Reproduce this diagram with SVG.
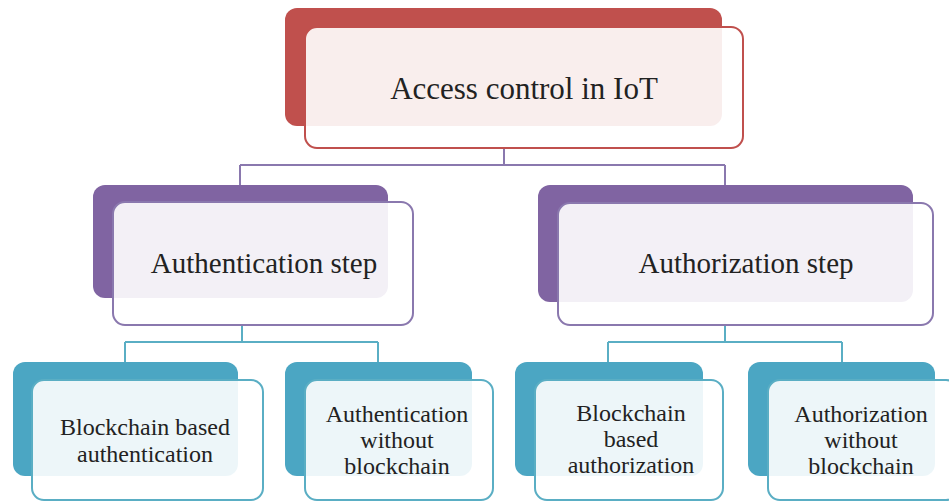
<svg xmlns="http://www.w3.org/2000/svg" width="949" height="502" viewBox="0 0 949 502">
<style>
.back-r{fill:#c0504d}
.back-p{fill:#8064a2}
.back-t{fill:#4ba6c3}
.front{fill:#ffffff;fill-opacity:0.9;stroke-width:2}
.fr{stroke:#c0504d}
.fp{stroke:#8a78ae}
.ft{stroke:#5aaec4}
.lbl{fill:#222;text-anchor:middle}
.cp{fill:none;stroke:#8a78ae;stroke-width:2}
.ct{fill:none;stroke:#5aaec4;stroke-width:2}
</style>
<rect width="949" height="502" fill="#ffffff"/>
<g id="connectors">
<path class="cp" d="M504,148 V165 M240,165 H725 M240,165 V185 M725,165 V185"/>
<path class="ct" d="M242,325 V342 M125,342 H378 M125,342 V362 M378,342 V362"/>
<path class="ct" d="M725,325 V342 M608,342 H842 M608,342 V362 M842,342 V362"/>
</g>
<g font-family="'Liberation Serif', 'DejaVu Serif', serif">
<g id="n-root">
<rect class="back-r" x="285" y="8" width="437" height="118" rx="12"/>
<rect class="front fr" x="305" y="27" width="438" height="121" rx="12"/>
<text class="lbl" x="524" y="99" font-size="31">Access control in IoT</text>
</g>
<g id="n-authn">
<rect class="back-p" x="93" y="185" width="295" height="113" rx="12"/>
<rect class="front fp" x="113" y="202" width="300" height="123" rx="12"/>
<text class="lbl" x="264" y="273" font-size="29">Authentication step</text>
</g>
<g id="n-authz">
<rect class="back-p" x="538" y="185" width="375" height="117" rx="12"/>
<rect class="front fp" x="558" y="203" width="375" height="122" rx="12"/>
<text class="lbl" x="746" y="273" font-size="29">Authorization step</text>
</g>
<g id="n-bc-authn">
<rect class="back-t" x="13" y="362" width="225" height="114" rx="12"/>
<rect class="front ft" x="32" y="380" width="231" height="120" rx="12"/>
<text class="lbl" font-size="24"><tspan x="145" y="435">Blockchain based</tspan><tspan x="145" y="462">authentication</tspan></text>
</g>
<g id="n-authn-nobc">
<rect class="back-t" x="285" y="362" width="187" height="114" rx="12"/>
<rect class="front ft" x="305" y="380" width="188" height="120" rx="12"/>
<text class="lbl" font-size="24"><tspan x="397" y="422">Authentication</tspan><tspan x="397" y="448">without</tspan><tspan x="397" y="474">blockchain</tspan></text>
</g>
<g id="n-bc-authz">
<rect class="back-t" x="515" y="362" width="188" height="114" rx="12"/>
<rect class="front ft" x="535" y="380" width="188" height="120" rx="12"/>
<text class="lbl" font-size="24"><tspan x="631" y="421">Blockchain</tspan><tspan x="631" y="447">based</tspan><tspan x="631" y="473">authorization</tspan></text>
</g>
<g id="n-authz-nobc">
<rect class="back-t" x="748" y="362" width="187" height="114" rx="12"/>
<rect class="front ft" x="768" y="380" width="190" height="120" rx="12"/>
<text class="lbl" font-size="24"><tspan x="861" y="422">Authorization</tspan><tspan x="861" y="448">without</tspan><tspan x="861" y="474">blockchain</tspan></text>
</g>
</g>
</svg>
